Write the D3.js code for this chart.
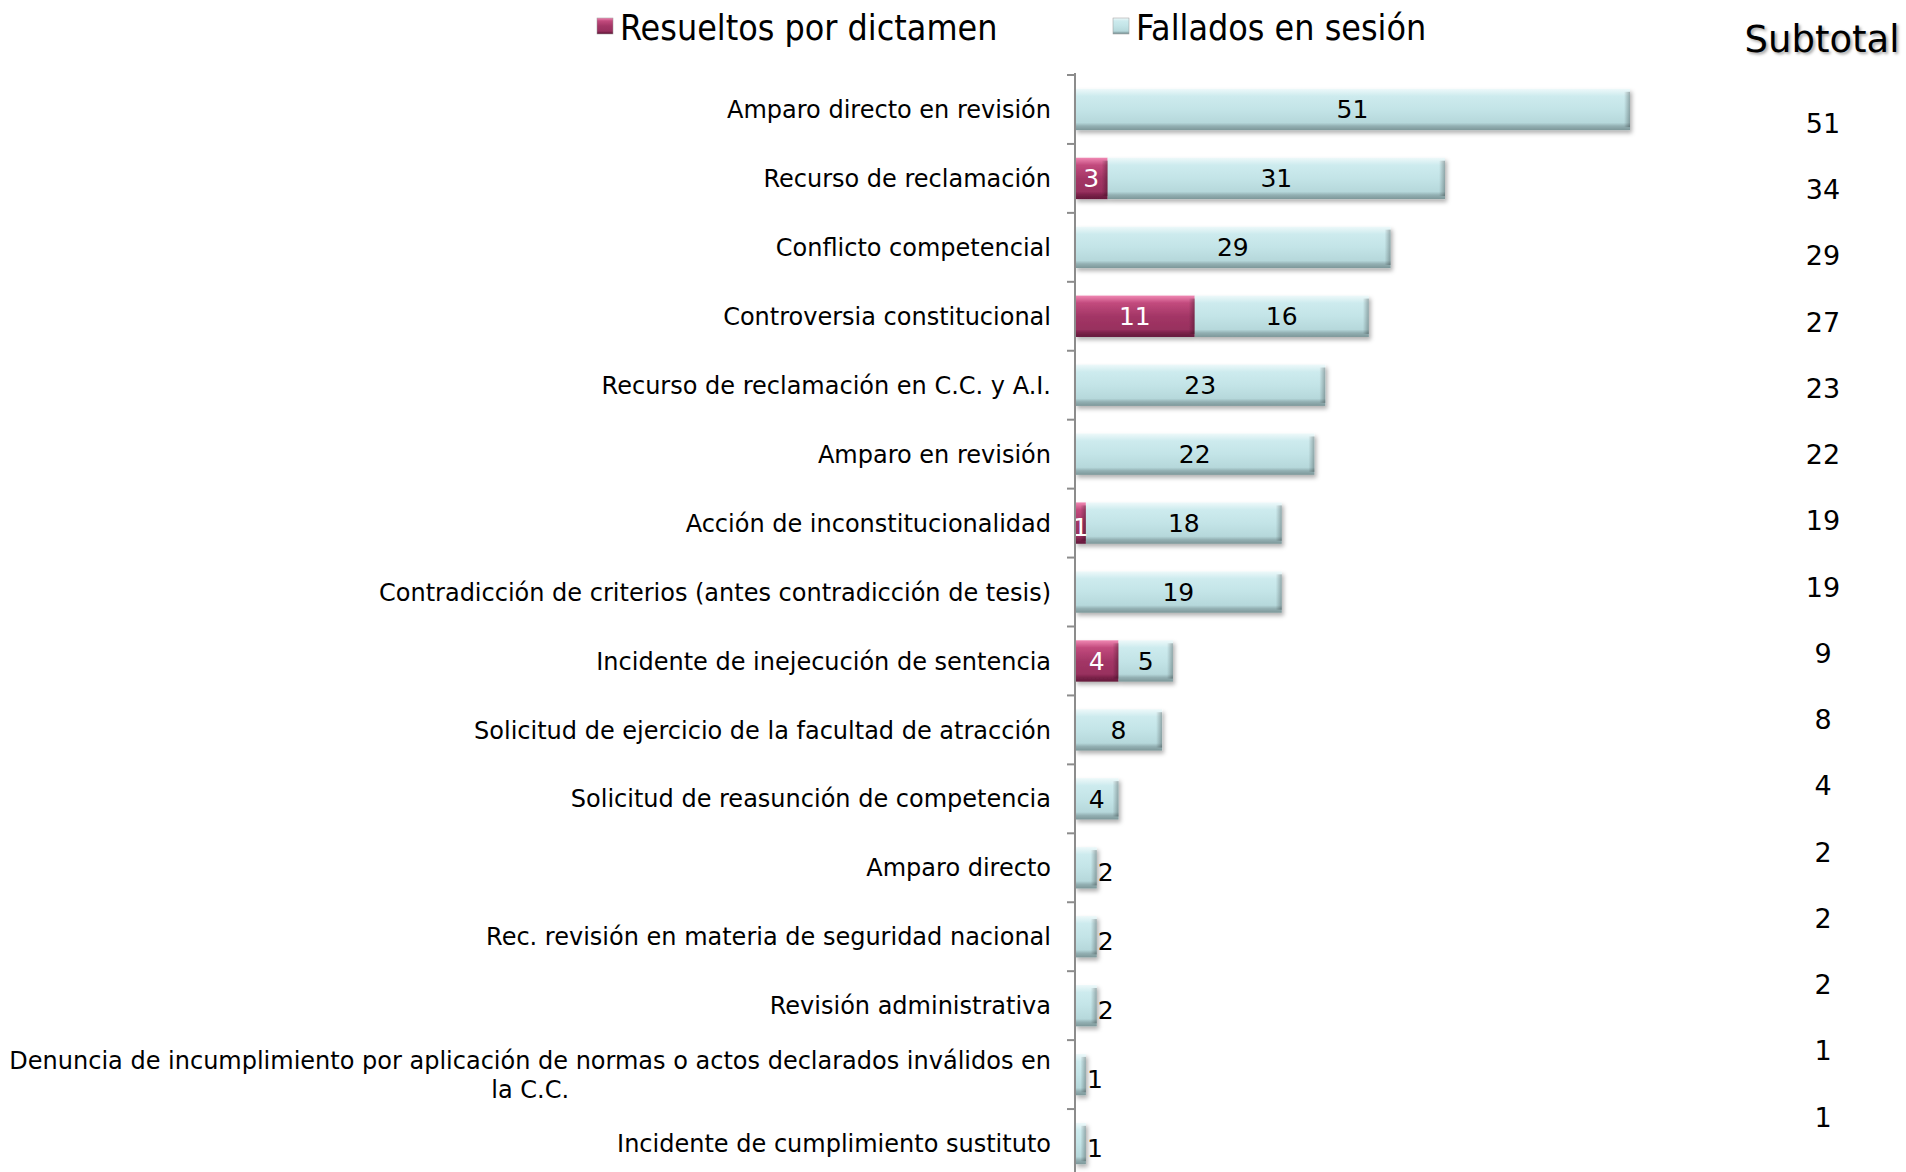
<!DOCTYPE html>
<html>
<head>
<meta charset="utf-8">
<script src="https://cdn.jsdelivr.net/npm/d3@7"></script>
<style>
  body { margin: 0; background: #fff; }
  text { font-family: "DejaVu Sans", Verdana, sans-serif; }
</style>
</head>
<body>
<div id="chart"></div>
<script>
// categorías (de arriba hacia abajo)
var categorias = [
  "Amparo directo en revisión",
  "Recurso de reclamación",
  "Conflicto competencial",
  "Controversia constitucional",
  "Recurso de reclamación en C.C. y A.I.",
  "Amparo en revisión",
  "Acción de inconstitucionalidad",
  "Contradicción de criterios (antes contradicción de tesis)",
  "Incidente de inejecución de sentencia",
  "Solicitud de ejercicio de la facultad de atracción",
  "Solicitud de reasunción de competencia",
  "Amparo directo",
  "Rec. revisión en materia de seguridad nacional",
  "Revisión administrativa",
  "Denuncia de incumplimiento por aplicación de normas o actos declarados inválidos en la C.C.",
  "Incidente de cumplimiento sustituto"
];
var resueltos = [0, 3, 0, 11, 0, 0, 1, 0, 4, 0, 0, 0, 0, 0, 0, 0];
var fallados  = [51, 31, 29, 16, 23, 22, 18, 19, 5, 8, 4, 2, 2, 2, 1, 1];
var subtotales = [51, 34, 29, 27, 23, 22, 19, 19, 9, 8, 4, 2, 2, 2, 1, 1];
var series = ["Resueltos por dictamen", "Fallados en sesión"];

var W = 1906, H = 1172;
var svg = d3.select("#chart").append("svg").attr("width", W).attr("height", H);
var defs = svg.append("defs");

// degradados tipo bisel
function grad(id, stops) {
  var g = defs.append("linearGradient").attr("id", id)
    .attr("x1", 0).attr("y1", 0).attr("x2", 0).attr("y2", 1);
  stops.forEach(s => g.append("stop").attr("offset", s[0]).attr("stop-color", s[1]));
}
grad("gFall", [[0, "#eef9fa"], [0.18, "#cdebee"], [0.5, "#c3e4e7"], [0.82, "#b6d8db"], [0.9, "#93b0b3"], [1, "#7d9799"]]);
grad("gRes", [[0, "#f088b3"], [0.18, "#c24a7d"], [0.5, "#a33666"], [0.82, "#98305e"], [0.9, "#7a2249"], [1, "#64183b"]]);
var gEnd = defs.append("linearGradient").attr("id", "gEnd").attr("x1", 0).attr("x2", 1).attr("y1", 0).attr("y2", 0);
gEnd.append("stop").attr("offset", 0).attr("stop-color", "#000").attr("stop-opacity", 0);
gEnd.append("stop").attr("offset", 1).attr("stop-color", "#000").attr("stop-opacity", 0.28);
var f = defs.append("filter").attr("id", "sombra").attr("x", "-5%").attr("y", "-20%").attr("width", "115%").attr("height", "160%");
f.append("feDropShadow").attr("dx", 2).attr("dy", 3).attr("stdDeviation", 2).attr("flood-opacity", 0.3);

var x0 = 1075;
var x = d3.scaleLinear().domain([0, 51]).range([x0, 1630]);
var y = d3.scaleBand().domain(categorias).range([75, 1178]).paddingInner(0.4).paddingOuter(0.2);

var datos = categorias.map((c, i) => ({ cat: c, res: resueltos[i], fal: fallados[i], sub: subtotales[i] }));

// barras
var segs = [];
datos.forEach(d => {
  if (d.res > 0) segs.push({ cat: d.cat, a: 0, b: d.res, v: d.res, s: 0 });
  segs.push({ cat: d.cat, a: d.res, b: d.res + d.fal, v: d.fal, s: 1 });
});

var gb = svg.append("g").attr("filter", "url(#sombra)");
gb.selectAll("rect.bar").data(segs).enter().append("rect")
  .attr("class", "bar")
  .attr("x", d => x(d.a))
  .attr("y", d => y(d.cat))
  .attr("width", d => x(d.b) - x(d.a))
  .attr("height", y.bandwidth())
  .attr("fill", d => d.s === 0 ? "url(#gRes)" : "url(#gFall)");

// extremo derecho oscurecido (bisel)
gb.selectAll("rect.end").data(segs).enter().append("rect")
  .attr("class", "end")
  .attr("x", d => x(d.b) - Math.min(6, (x(d.b) - x(d.a)) / 2))
  .attr("y", d => y(d.cat) + 3)
  .attr("width", d => Math.min(6, (x(d.b) - x(d.a)) / 2))
  .attr("height", y.bandwidth() - 6)
  .attr("fill", "url(#gEnd)");

// etiquetas de valor
svg.selectAll("text.val").data(segs).enter().append("text")
  .attr("class", "val")
  .attr("x", d => d.v <= 2 && d.s === 1 ? x(d.b) + 1 : (x(d.a) + x(d.b)) / 2)
  .attr("y", d => y(d.cat) + y.bandwidth() / 2 + (d.v <= 2 ? 4 : 0))
  .attr("dy", "0.36em")
  .attr("text-anchor", d => d.v <= 2 && d.s === 1 ? "start" : "middle")
  .attr("font-size", 25)
  .attr("fill", d => d.s === 0 ? "#fff" : "#000")
  .text(d => d.v);

// eje vertical
var paso = y.step();
var bordes = categorias.map(c => y(c) - paso * y.paddingInner() / 2);
bordes.push(bordes[bordes.length - 1] + paso);
var ge = svg.append("g").attr("stroke", "#8c8c8c").attr("stroke-width", 2);
ge.append("line").attr("x1", x0).attr("x2", x0).attr("y1", bordes[0] - 2).attr("y2", H);
ge.selectAll("line.tick").data(bordes).enter().append("line")
  .attr("x1", x0 - 8).attr("x2", x0).attr("y1", d => d).attr("y2", d => d);

// etiquetas de categorías (con ajuste de línea)
var maxAncho = 1045, xr = 1051;
svg.selectAll("text.cat").data(datos).enter().append("text")
  .attr("class", "cat")
  .attr("x", xr)
  .attr("font-size", 24)
  .attr("fill", "#000")
  .each(function(d) {
    var t = d3.select(this);
    var palabras = d.cat.split(" "), lineas = [], linea = [];
    var tmp = t.append("tspan");
    palabras.forEach(p => {
      linea.push(p);
      tmp.text(linea.join(" "));
      if (tmp.node().getComputedTextLength() > maxAncho && linea.length > 1) {
        linea.pop();
        lineas.push(linea.join(" "));
        linea = [p];
      }
    });
    lineas.push(linea.join(" "));
    tmp.remove();
    var yc = y(d.cat) + y.bandwidth() / 2;
    var lh = 29;
    lineas.forEach((l, i) => {
      t.append("tspan")
        .attr("x", xr)
        .attr("y", yc + (i - (lineas.length - 1) / 2) * lh)
        .attr("dy", "0.36em")
        .attr("text-anchor", i > 0 ? "middle" : "end")
        .text(l);
    });
    if (lineas.length > 1) {
      var w0 = t.select("tspan").node().getComputedTextLength();
      t.selectAll("tspan").filter((_, i) => i > 0).attr("x", xr - w0 / 2);
    }
  });

// columna de subtotales
var ys = d3.scalePoint().domain(categorias).range([123, 1117]);
svg.append("text")
  .attr("x", 1822).attr("y", 52)
  .attr("text-anchor", "middle")
  .attr("font-size", 37)
  .attr("fill", "#000")
  .style("text-shadow", "2px 2px 3px rgba(0,0,0,0.35)")
  .text("Subtotal");
svg.selectAll("text.sub").data(datos).enter().append("text")
  .attr("class", "sub")
  .attr("x", 1823)
  .attr("y", d => ys(d.cat))
  .attr("dy", "0.36em")
  .attr("text-anchor", "middle")
  .attr("font-size", 27)
  .attr("fill", "#000")
  .text(d => d.sub);

// leyenda
var leg = [{ n: series[0], g: "url(#gRes)", x: 597 }, { n: series[1], g: "url(#gFall)", x: 1113 }];
var gl = svg.selectAll("g.leg").data(leg).enter().append("g").attr("class", "leg")
  .attr("transform", d => `translate(${d.x},18)`);
gl.append("rect").attr("width", 16).attr("height", 16).attr("fill", d => d.g)
  .attr("stroke", "#999").attr("stroke-width", 0.5);
gl.append("text")
  .attr("x", 23).attr("y", 22)
  .attr("font-size", 35.5)
  .style("font-family", "'DejaVu Sans Condensed', 'DejaVu Sans', sans-serif")
  .style("font-stretch", "condensed")
  .attr("fill", "#000")
  .text(d => d.n);
</script>
</body>
</html>
